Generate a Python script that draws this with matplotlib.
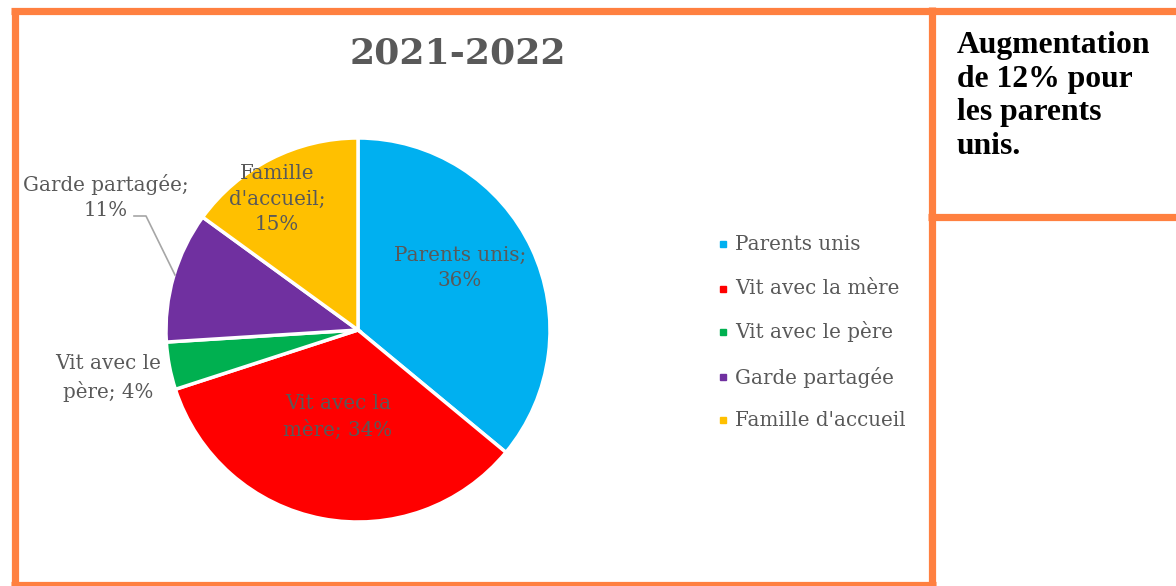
import matplotlib
matplotlib.use("Agg")
import matplotlib.pyplot as plt

# ---- data ----
categories = ["Parents unis", "Vit avec la mère", "Vit avec le père", "Garde partagée", "Famille d'accueil"]
values = [36, 34, 4, 11, 15]
label_texts = ["Parents unis;\n36%", "Vit avec la\nmère; 34%", "Vit avec le\npère; 4%",
               "Garde partagée;\n11%", "Famille\nd'accueil;\n15%"]
title = "2021-2022"
note = "Augmentation\nde 12% pour\nles parents\nunis."

# ---- style ----
colors = ["#00B0F0", "#FF0000", "#00B050", "#7030A0", "#FFC000"]
orange = "#FF8040"
gray = "#595959"
W, H = 1176, 586
fs = 14.3

fig = plt.figure(figsize=(W / 100, H / 100), dpi=100)
ax = fig.add_axes([0, 0, 1, 1])

def Y(y):
    return H - y

cx, cy, r = 358, 330, 192
ax.pie(values, colors=colors, startangle=90, counterclock=False,
       center=(cx, Y(cy)), radius=r,
       wedgeprops=dict(edgecolor="white", linewidth=2.5))
ax.set_xlim(0, W)
ax.set_ylim(0, H)
ax.set_aspect("equal")
ax.axis("off")

# data labels (layout positions in px)
label_pos = [(460, 268), (338, 417), (108, 378), (106, 197), (277, 199)]
for txt, (x, y) in zip(label_texts, label_pos):
    ax.text(x, Y(y), txt, ha="center", va="center", fontsize=fs,
            family="DejaVu Serif", color=gray, linespacing=1.42)

# leader line for Garde partagée
ax.plot([134, 146, 175], [Y(216), Y(216), Y(275)], color="#A6A6A6", lw=1.2)

# title
ax.text(458, Y(53), title, ha="center", va="center", fontsize=26,
        family="DejaVu Serif", fontweight="bold", color=gray)

# legend
leg_y = [244, 289, 332, 377, 420]
for name, c, y in zip(categories, colors, leg_y):
    ax.plot([723], [Y(y)], marker="s", ms=5, color=c, mec=c)
    ax.text(735, Y(y), name, ha="left", va="center", fontsize=fs,
            family="DejaVu Serif", color=gray)

# borders
lw = 5.2
ax.plot([14.5, 14.5], [Y(586), Y(11)], color=orange, lw=lw, solid_capstyle="butt")
ax.plot([11, W], [Y(11), Y(11)], color=orange, lw=lw, solid_capstyle="butt")
ax.plot([932, 932], [Y(586), Y(7)], color=orange, lw=lw, solid_capstyle="butt")
ax.plot([11, 936], [Y(585), Y(585)], color=orange, lw=lw, solid_capstyle="butt")
ax.plot([928, W], [Y(217), Y(217)], color=orange, lw=lw, solid_capstyle="butt")

# note text
ax.text(957, Y(31), note, ha="left", va="top", fontsize=22.8,
        family="Liberation Serif", fontweight="bold", color="black", linespacing=1.21)

fig.savefig("out.png", dpi=100)
